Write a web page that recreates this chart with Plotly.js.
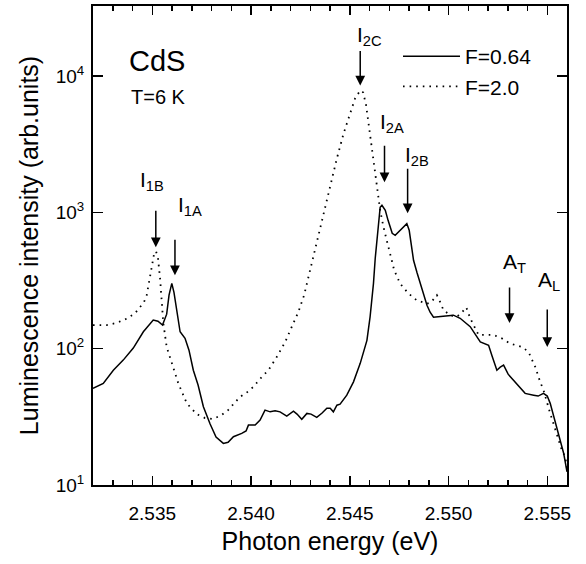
<!DOCTYPE html>
<html>
<head>
<meta charset="utf-8">
<script src="https://cdn.plot.ly/plotly-3.0.1.min.js"></script>
<style>html,body{margin:0;padding:0;background:#fff}#chart{width:586px;height:564px}</style>
</head>
<body>
<div id="chart"></div>
<script>
// ---------- data ----------
const seriesNames = ['F=0.64', 'F=2.0'];

const energySolid = [2.5320, 2.53252, 2.53303, 2.53353, 2.53404, 2.53455, 2.53505, 2.53529, 2.53552, 2.53573,
  2.53585, 2.53599, 2.53610, 2.53624, 2.53641, 2.53666, 2.53686, 2.53708, 2.53732, 2.53759,
  2.53793, 2.53823, 2.53860, 2.53884, 2.53911, 2.53953, 2.53975, 2.53987, 2.54021, 2.54046,
  2.54071, 2.54097, 2.54122, 2.54147, 2.54181, 2.54215, 2.54233, 2.54257, 2.54283, 2.54304,
  2.54333, 2.54360, 2.54384, 2.54401, 2.54417, 2.54435, 2.54451, 2.54485, 2.54519, 2.54553,
  2.54587, 2.54603, 2.54620, 2.54629, 2.54637, 2.54645, 2.54654, 2.54663, 2.54680, 2.54694,
  2.54715, 2.54730, 2.54755, 2.54789, 2.54801, 2.54811, 2.54823, 2.54840, 2.54867, 2.54891,
  2.54907, 2.54924, 2.54973, 2.55025, 2.55059, 2.55110, 2.55161, 2.55186, 2.55203, 2.55221,
  2.55245, 2.55262, 2.55279, 2.55302, 2.55329, 2.55358, 2.55388, 2.55431, 2.55454, 2.55481,
  2.55500, 2.55515, 2.55530, 2.55549, 2.55566, 2.55583, 2.55600];
const intensitySolid = [51.1, 55.6, 69.5, 82.4, 101, 133, 162, 159, 149, 179,
  247, 301, 259, 191, 133, 119, 97.5, 69.5, 54.1, 37.5,
  28.0, 22.5, 20.2, 20.6, 22.6, 23.9, 24.9, 27.5, 27.5, 29.9,
  35.4, 34.4, 35.1, 34.4, 32.0, 34.8, 33.1, 30.3, 33.5, 33.1,
  31.3, 33.7, 36.5, 36.5, 34.4, 38.5, 39.2, 45.6, 57.1, 78.0,
  115, 171, 300, 460, 624, 873, 1088, 1125, 1035, 873,
  701, 678, 738, 826, 738, 573, 445, 363, 268, 208,
  185, 170, 173, 176, 167, 145, 112, 108, 106, 88.1,
  69.5, 73.1, 75.7, 65.0, 58.8, 52.2, 47.0, 45.6, 44.9, 47.0,
  44.9, 39.7, 33.1, 26.7, 21.4, 17.1, 12.5];

const energyDotted = [2.5320, 2.53269, 2.53317, 2.53371, 2.53413, 2.53438, 2.53458, 2.53472, 2.53481, 2.53489,
  2.53499, 2.53509, 2.53519, 2.53529, 2.53539, 2.53547, 2.53556, 2.53573, 2.53599, 2.53632,
  2.53675, 2.53725, 2.53767, 2.53809, 2.53851, 2.53884, 2.53911, 2.53945, 2.53975, 2.54012,
  2.54055, 2.54088, 2.54131, 2.54173, 2.54207, 2.54240, 2.54269, 2.54299, 2.54333, 2.54367,
  2.54401, 2.54435, 2.54469, 2.54502, 2.54527, 2.54553, 2.54568, 2.54583, 2.54603, 2.54620,
  2.54637, 2.54654, 2.54671, 2.54688, 2.54705, 2.54725, 2.54755, 2.54797, 2.54840, 2.54891,
  2.54912, 2.54941, 2.54958, 2.54975, 2.55009, 2.55042, 2.55069, 2.55090, 2.55110, 2.55152,
  2.55228, 2.55270, 2.55312, 2.55372, 2.55405, 2.55439, 2.55464, 2.55481, 2.55515, 2.55549,
  2.55574, 2.55591, 2.55601];
const intensityDotted = [149, 149, 154, 166, 182, 201, 219, 247, 292, 357,
  430, 493, 518, 460, 336, 226, 154, 103, 78.0, 55.6,
  39.7, 33.1, 31.0, 30.5, 32.6, 35.4, 39.2, 44.4, 47.2, 52.5,
  62.1, 69.5, 87.1, 112, 145, 186, 247, 376, 593, 950,
  1549, 2488, 3793, 5309, 6839, 7830, 7570, 6080, 3665, 2286,
  1449, 1035, 777, 624, 484, 376, 300, 254, 226, 214,
  219, 247, 219, 191, 176, 171, 185, 201, 167, 126,
  126, 119, 109, 103, 94.8, 73.6, 57.1, 49.7, 33.5, 23.9,
  18.0, 16.1, 12.9];

// line assignments (arrows)
const lineLabels = ['I<sub>1B</sub>', 'I<sub>1A</sub>', 'I<sub>2C</sub>', 'I<sub>2A</sub>', 'I<sub>2B</sub>', 'A<sub>T</sub>', 'A<sub>L</sub>'];
const lineEnergies = [2.53518, 2.53615, 2.54553, 2.54676, 2.54793, 2.55309, 2.55500];
const lineArrowTips = [555, 345, 8510, 1660, 984, 154, 103];

const yTickVals = [10, 100, 1000, 10000];
const yTickText = ['10<sup>1</sup>', '10<sup>2</sup>', '10<sup>3</sup>', '10<sup>4</sup>'];

// ---------- layout helpers (annotation placement only) ----------
const M = {l: 93, r: 19, t: 6, b: 79};
const W = 586, H = 564;
const pw = W - M.l - M.r, ph = H - M.t - M.b;
const px = v => (v - M.l) / pw;
const py = v => (H - M.b - v) / ph;

const FONT = 'Liberation Sans, Arial, Helvetica, sans-serif';

// arrow lengths (px) and label placement (px of label top-left) per line label
const arrowLen = [38, 37, 36, 38, 46, 37, 39];
const labelPos = [[138, 166], [176, 191], [355, 21], [378, 108], [403, 141], [501, 248], [536, 266]];

const annotations = [];
lineLabels.forEach((t, i) => {
  annotations.push({
    xref: 'x', yref: 'y', x: lineEnergies[i], y: Math.log10(lineArrowTips[i]),
    text: '', showarrow: true, axref: 'pixel', ayref: 'pixel', ax: 0, ay: -arrowLen[i],
    arrowhead: 2, arrowsize: 1.3, arrowwidth: 1.5, arrowcolor: '#000'
  });
  annotations.push({
    xref: 'paper', yref: 'paper', x: px(labelPos[i][0]), y: py(labelPos[i][1]),
    xanchor: 'left', yanchor: 'top', showarrow: false, text: t,
    font: {family: FONT, size: 21, color: '#000'}
  });
});
annotations.push({xref: 'paper', yref: 'paper', x: px(127), y: py(61), xanchor: 'left', yanchor: 'middle',
  showarrow: false, text: 'CdS', font: {family: FONT, size: 29, color: '#000'}});
annotations.push({xref: 'paper', yref: 'paper', x: px(129), y: py(96.5), xanchor: 'left', yanchor: 'middle',
  showarrow: false, text: 'T=6 K', font: {family: FONT, size: 20, color: '#000'}});

const traces = [
  {x: energySolid, y: intensitySolid, name: seriesNames[0], type: 'scatter', mode: 'lines',
   line: {color: '#000', width: 1.5}},
  {x: energyDotted, y: intensityDotted, name: seriesNames[1], type: 'scatter', mode: 'lines',
   line: {color: '#000', width: 1.8, dash: '1.6px,5px'}}
];

const layout = {
  width: W, height: H, margin: M,
  paper_bgcolor: '#fff', plot_bgcolor: '#fff',
  font: {family: FONT, color: '#000'},
  showlegend: true,
  legend: {x: px(398), y: py(36), xanchor: 'left', yanchor: 'top', itemwidth: 57,
           font: {family: FONT, size: 21, color: '#000'}, bgcolor: 'rgba(0,0,0,0)', tracegroupgap: 0},
  xaxis: {
    range: [2.532, 2.556], tick0: 2.535, dtick: 0.005, tickformat: '.3f',
    ticks: 'inside', ticklen: 9, tickwidth: 1.5, tickcolor: '#000',
    minor: {dtick: 0.001, ticks: 'inside', ticklen: 5, tickwidth: 1.5, tickcolor: '#000', showgrid: false},
    showline: true, linewidth: 2, linecolor: '#000', mirror: 'allticks',
    showgrid: false, zeroline: false, ticklabelstandoff: 10,
    tickfont: {family: FONT, size: 19, color: '#000'},
    title: {text: 'Photon energy (eV)', font: {family: FONT, size: 25, color: '#000'}, standoff: 10}
  },
  yaxis: {
    type: 'log', range: [1, 4.513], tickvals: yTickVals, ticktext: yTickText,
    ticks: 'inside', ticklen: 10, tickwidth: 1.5, tickcolor: '#000',
    showline: true, linewidth: 2, linecolor: '#000', mirror: 'ticks',
    showgrid: false, zeroline: false, ticklabelstandoff: 3,
    tickfont: {family: FONT, size: 19, color: '#000'},
    title: {text: 'Luminescence intensity (arb.units)', font: {family: FONT, size: 25, color: '#000'}, standoff: 10}
  },
  annotations: annotations
};

Plotly.newPlot('chart', traces, layout, {displayModeBar: false, staticPlot: true});
</script>
</body>
</html>
